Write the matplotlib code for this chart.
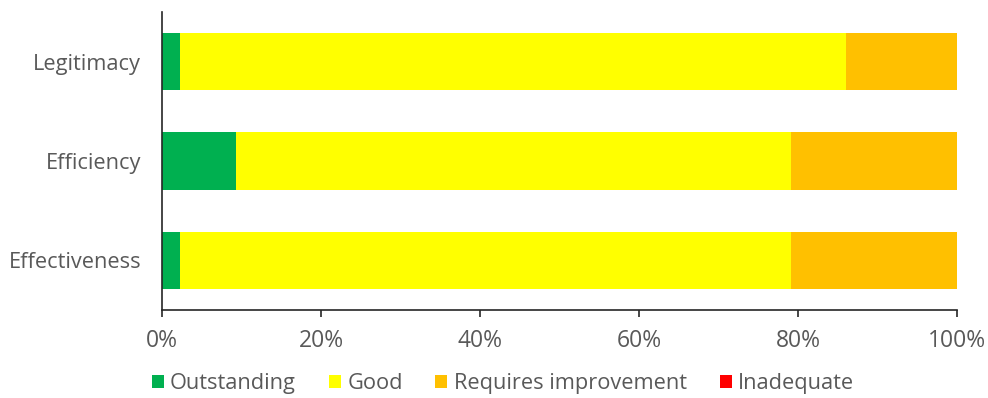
import numpy as np
import matplotlib.pyplot as plt
from matplotlib.patches import Patch
from matplotlib.ticker import PercentFormatter

plt.rcParams['font.family'] = ['Open Sans', 'DejaVu Sans']

# share of forces per grade (%)
categories = ['Effectiveness', 'Efficiency', 'Legitimacy']
outstanding = [2.3, 9.3, 2.3]
good = [76.8, 69.8, 83.7]
requires_improvement = [20.9, 20.9, 14.0]
inadequate = [0.0, 0.0, 0.0]

series = [
    ('Outstanding', outstanding, '#00B050'),
    ('Good', good, '#FFFF00'),
    ('Requires improvement', requires_improvement, '#FFC000'),
    ('Inadequate', inadequate, '#FF0000'),
]
grey = '#595959'

fig = plt.figure(figsize=(9.88, 3.98), dpi=100)
ax = fig.add_axes([0.164, 0.221, 0.8046, 0.749])

y = np.arange(len(categories))
left = np.zeros(len(categories))
for name, vals, col in series:
    ax.barh(y, vals, left=left, height=0.58, color=col, edgecolor='none')
    left += np.array(vals)

ax.set_xlim(0, 100)
ax.set_ylim(-0.5, 2.5)
ax.set_yticks(y)
ax.set_yticklabels(categories)
ax.set_xticks(np.arange(0, 101, 20))
ax.xaxis.set_major_formatter(PercentFormatter(decimals=0))

for s in ['top', 'right']:
    ax.spines[s].set_visible(False)
for s in ['left', 'bottom']:
    ax.spines[s].set_color('#262626')
    ax.spines[s].set_linewidth(1.2)
ax.tick_params(axis='y', length=0, pad=15, labelsize=15.7, labelcolor=grey)
ax.tick_params(axis='x', length=5, width=1.2, color='#262626', pad=9,
               labelsize=16.5, labelcolor=grey)

handles = [Patch(facecolor=c, edgecolor='none', label=n) for n, _, c in series]
fig.legend(handles=handles, loc='center', bbox_to_anchor=(0.509, 0.036), ncol=4,
           frameon=False, fontsize=15.7, labelcolor=grey, handlelength=0.55,
           handleheight=0.55, handletextpad=0.3, columnspacing=1.5,
           borderpad=0, borderaxespad=0)

fig.savefig('out.png', dpi=100)
